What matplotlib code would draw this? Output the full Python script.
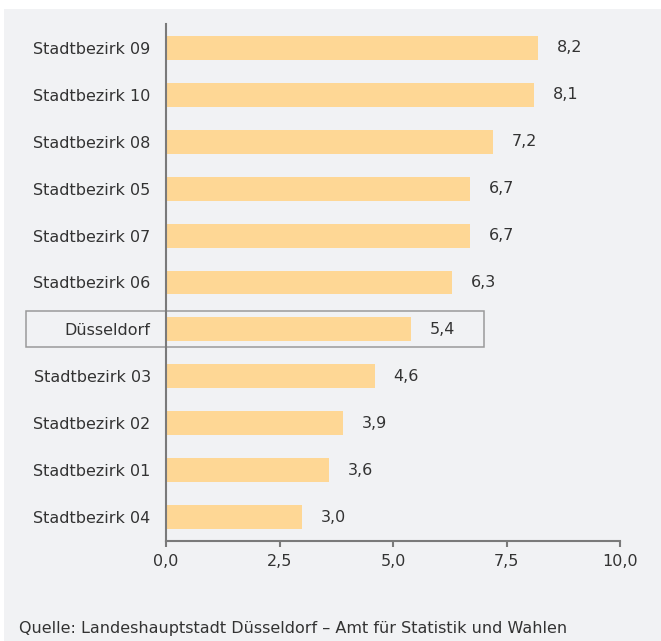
import matplotlib.pyplot as plt
from matplotlib.patches import Rectangle
from matplotlib.ticker import FuncFormatter

# Anteil je Stadtbezirk (sortiert wie im Original)
districts = ['Stadtbezirk 09', 'Stadtbezirk 10', 'Stadtbezirk 08', 'Stadtbezirk 05',
             'Stadtbezirk 07', 'Stadtbezirk 06', 'Düsseldorf', 'Stadtbezirk 03',
             'Stadtbezirk 02', 'Stadtbezirk 01', 'Stadtbezirk 04']
values = [8.2, 8.1, 7.2, 6.7, 6.7, 6.3, 5.4, 4.6, 3.9, 3.6, 3.0]
x_ticks = [0, 2.5, 5, 7.5, 10]
source = 'Quelle: Landeshauptstadt Düsseldorf – Amt für Statistik und Wahlen'

bar_color = '#fed795'
bg_color = '#f1f2f4'
text_color = '#333333'
axis_color = '#7a7a7a'
fs = 11.5

W, H = 661, 641
fig = plt.figure(figsize=(W / 100, H / 100), dpi=100, facecolor='white')

# grey panel behind everything
fig.patches.append(Rectangle((4 / W, 0), 1, 1 - 9 / H, transform=fig.transFigure,
                             facecolor=bg_color, edgecolor='none', zorder=-10))

ax = fig.add_axes([166 / W, 1 - 541 / H, (620 - 166) / W, (541 - 24) / H])
ax.set_facecolor(bg_color)
ax.patch.set_alpha(0)

pos = range(len(districts))
ax.barh(pos, values, height=0.51, color=bar_color, zorder=2)

for i, v in enumerate(values):
    ax.annotate(f'{v:.1f}'.replace('.', ','), (v, i), xytext=(13.5, 0),
                textcoords='offset points', va='center', ha='left',
                fontsize=fs, color=text_color)

# frame around the city total
idx = districts.index('Düsseldorf')
ax.add_patch(Rectangle((-3.08, idx - 0.385), 10.08, 0.77, fill=False,
                       edgecolor='#9a9a9a', linewidth=1.1, clip_on=False, zorder=3))

ax.set_xlim(0, 10)
ax.set_ylim(len(districts) - 0.49, -0.51)
ax.set_yticks(list(pos))
ax.set_yticklabels(districts)
ax.set_xticks(x_ticks)
ax.xaxis.set_major_formatter(FuncFormatter(lambda x, p: f'{x:.1f}'.replace('.', ',')))

for s in ['top', 'right']:
    ax.spines[s].set_visible(False)
for s in ['left', 'bottom']:
    ax.spines[s].set_color(axis_color)
    ax.spines[s].set_linewidth(1.5)
    ax.spines[s].set_zorder(4)

ax.tick_params(axis='y', length=0, pad=11, labelsize=fs, labelcolor=text_color)
ax.tick_params(axis='x', length=4, width=1.5, color=axis_color, pad=5,
               labelsize=fs, labelcolor=text_color)

fig.text(19 / W, 1 - 628 / H, source, ha='left', va='center', fontsize=fs, color=text_color)

fig.savefig('out.png', dpi=100, facecolor='white')
